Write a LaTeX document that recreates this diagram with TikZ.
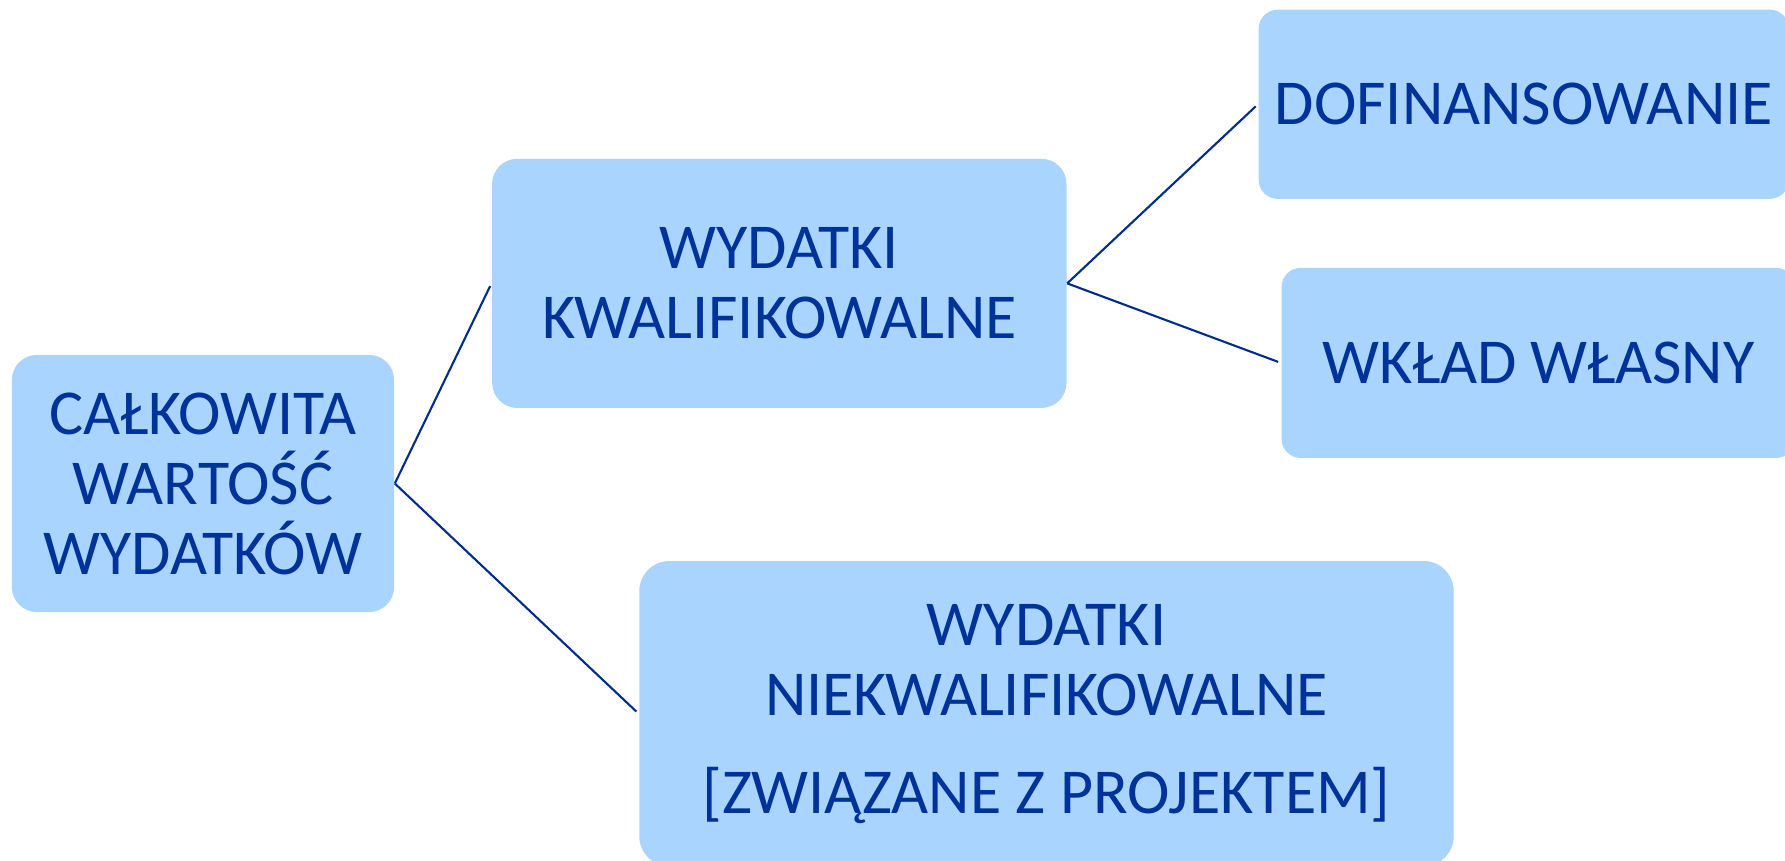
\documentclass[tikz,border=0pt]{standalone}
\usepackage{fontspec}
\setmainfont{Carlito}
\usetikzlibrary{positioning}
\definecolor{boxfill}{HTML}{A8D4FE}
\definecolor{boxtext}{HTML}{00339A}
\definecolor{linkline}{HTML}{002D8C}
\begin{document}
\begin{tikzpicture}
[x=0.01cm,y=-0.01cm,node distance=2cm,on grid,%
  every node/.style={fill=boxfill,text=boxtext,inner sep=0pt,align=center,
    font=\fontsize{18.2pt}{19.9pt}\selectfont},
  box/.style={rounded corners=0.25cm},
  link/.style={draw=linkline,line width=0.6pt,shorten >=0.03cm}]
\useasboundingbox (0,0) rectangle (1785,861);
\clip (0,0) rectangle (1785,861);
%% nodes or boxes
\node[box,minimum width=3.82cm,minimum height=2.57cm] (total) at (203,483.5)
  {CAŁKOWITA\\WARTOŚĆ\\WYDATKÓW};
\node[box,minimum width=5.74cm,minimum height=2.49cm] (kwal)
  [above right=2cm and 5.76cm of total] {WYDATKI\\KWALIFIKOWALNE};
\node[box,rounded corners=0.3cm,minimum width=8.14cm,minimum height=3.05cm] (niek)
  [below right=2.3cm and 8.43cm of total]
  {WYDATKI\\NIEKWALIFIKOWALNE\\[0.28cm][ZWIĄZANE Z PROJEKTEM]};
\node[box,rounded corners=0.19cm,minimum width=5.3cm,minimum height=1.89cm] (dofin)
  [above right=1.79cm and 7.44cm of kwal] {DOFINANSOWANIE};
\node[box,rounded corners=0.19cm,minimum width=5.13cm,minimum height=1.9cm] (wklad)
  [below right=0.795cm and 7.585cm of kwal] {WKŁAD WŁASNY};
%% connectors
\path[link]
(total.east) edge (kwal.west)
(total.east) edge (niek.west)
(kwal.east) edge (dofin.west)
(kwal.east) edge (wklad.west);
\end{tikzpicture}
\end{document}
